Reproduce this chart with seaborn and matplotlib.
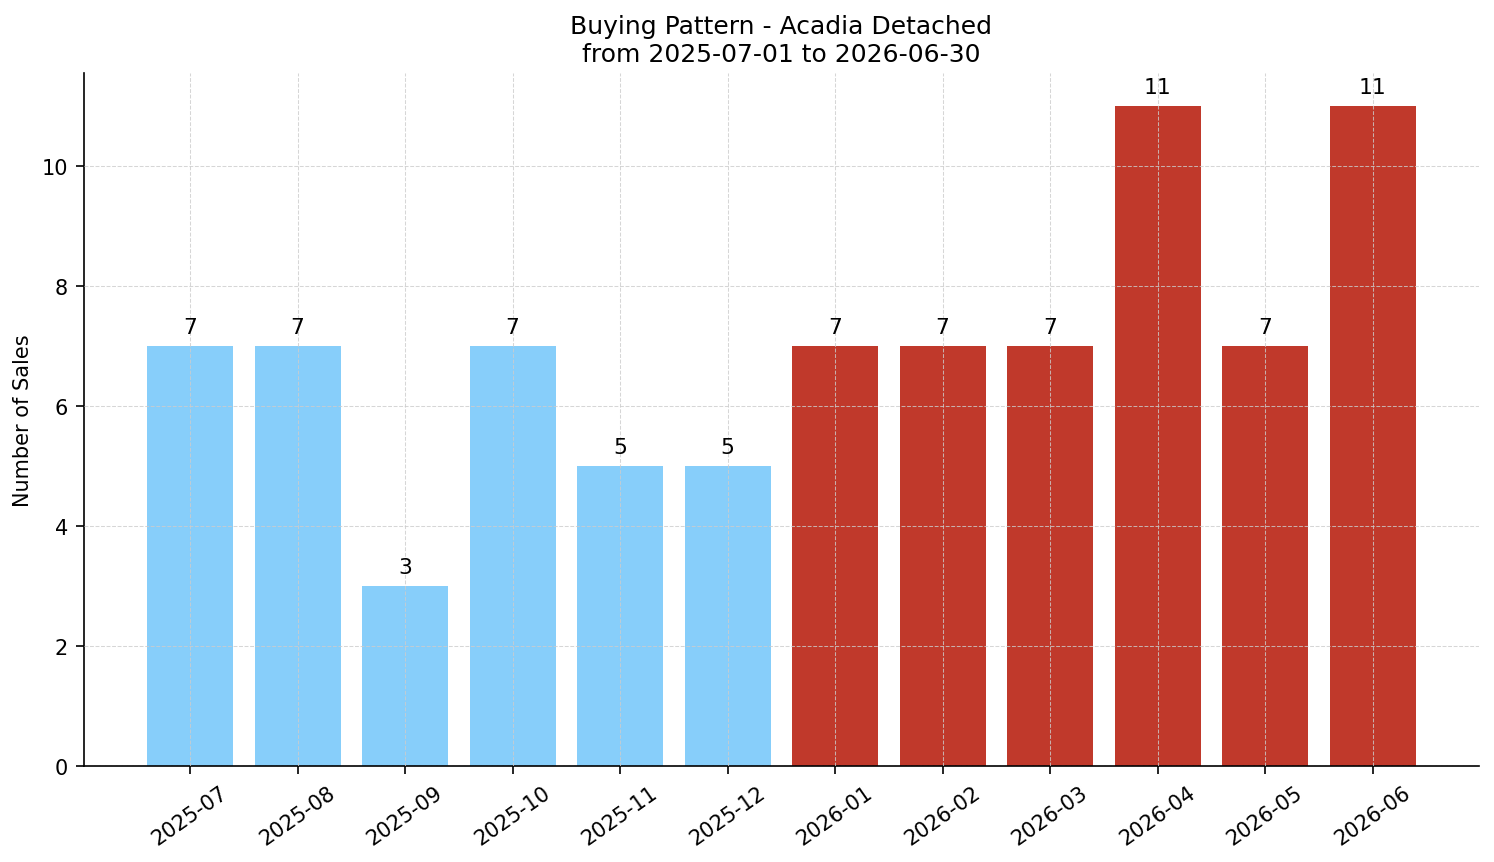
import matplotlib
matplotlib.use("Agg")
import matplotlib.pyplot as plt
import seaborn as sns
import pandas as pd

months = ["2025-07", "2025-08", "2025-09", "2025-10", "2025-11", "2025-12",
          "2026-01", "2026-02", "2026-03", "2026-04", "2026-05", "2026-06"]
sales = [7, 7, 3, 7, 5, 5, 7, 7, 7, 11, 7, 11]
period = ["2025"] * 6 + ["2026"] * 6
palette = {"2025": "#87CEFA", "2026": "#C0392B"}

df = pd.DataFrame({"month": months, "sales": sales, "period": period})

sns.set_style("white")
plt.rcParams['font.family'] = ['DejaVu Sans']
plt.rcParams.update({"text.color": "black", "axes.labelcolor": "black",
                     "xtick.color": "black", "ytick.color": "black"})

fig, ax = plt.subplots(figsize=(9.96, 5.753), dpi=150)
sns.barplot(data=df, x="month", y="sales", hue="period", palette=palette,
            dodge=False, width=0.8, saturation=1, legend=False, ax=ax,
            linewidth=0, edgecolor="none")

for i, v in enumerate(sales):
    ax.text(i, v + 0.15, str(v), ha="center", va="bottom", fontsize=10.5, color="black")

ax.set_xlim(-0.99, 11.99)
ax.set_ylim(0, 11.55)
ax.set_axisbelow(False)
ax.grid(True, linestyle="--", linewidth=0.5, color="#cccccc", alpha=0.8)
sns.despine(ax=ax)
ax.tick_params(axis="both", which="both", length=4, width=0.8, bottom=True, left=True,
               labelsize=10, colors="black")
plt.setp(ax.get_xticklabels(), rotation=35, ha="center")
ax.set_xlabel("")
ax.set_ylabel("Number of Sales", fontsize=10, color="black")
ax.set_title("Buying Pattern - Acadia Detached\nfrom 2025-07-01 to 2026-06-30", fontsize=12, color="black")
for s in ax.spines.values():
    s.set_color("black")

fig.subplots_adjust(left=0.056, right=0.99, top=0.914, bottom=0.111)
fig.savefig("out.png", dpi=150)
